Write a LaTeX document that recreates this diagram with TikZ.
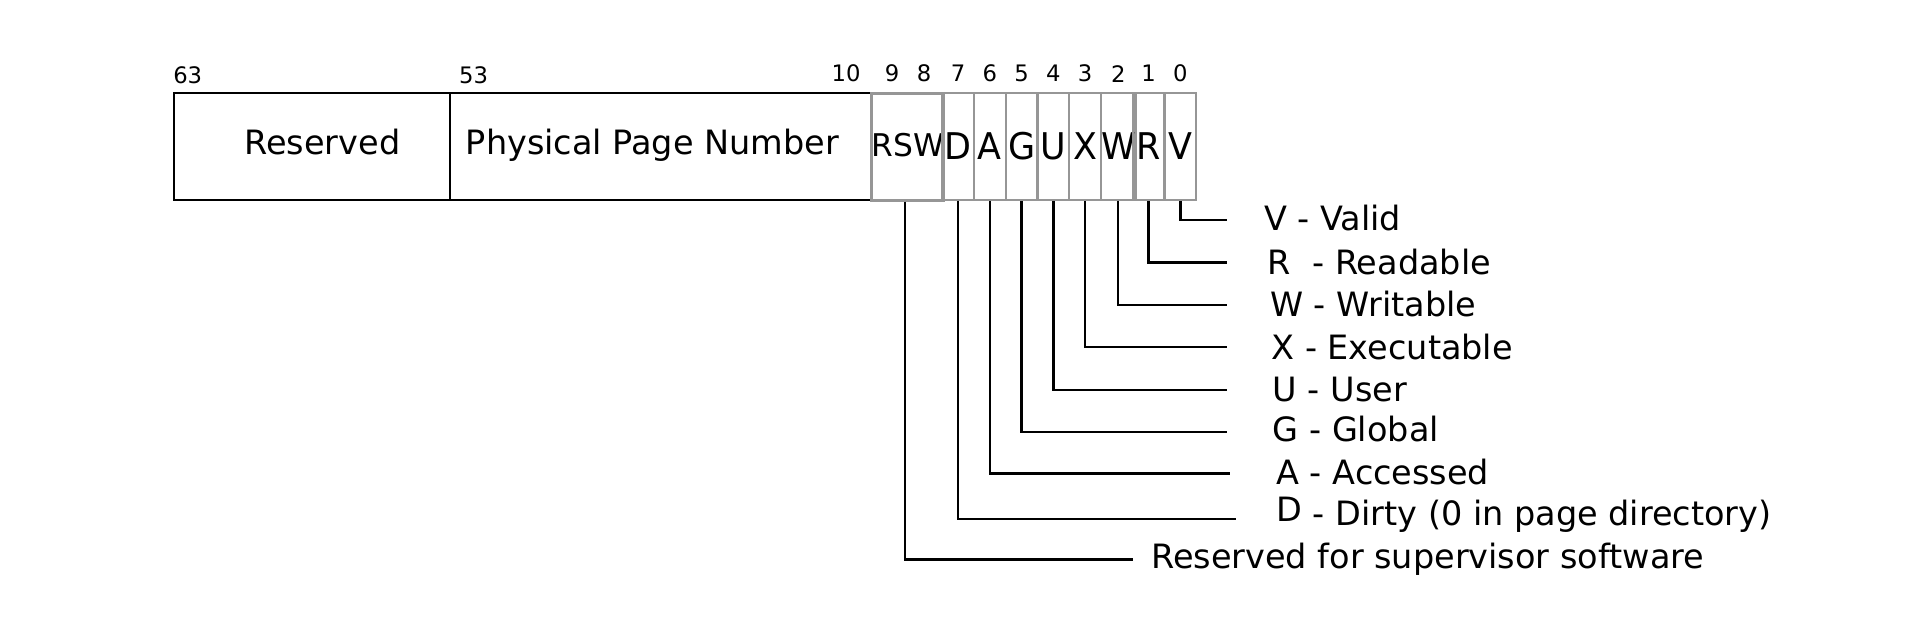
\documentclass[tikz,border=0pt]{standalone}
\usepackage{fontspec}
\setmainfont{DejaVu Sans}
\newcommand{\bigtext}{\fontsize{27.3}{31}\selectfont}
\newcommand{\bittext}{\fontsize{30}{34}\selectfont}
\newcommand{\rswtext}{\fontsize{25.5}{29}\selectfont}
\newcommand{\numtext}{\fontsize{18.5}{21}\selectfont}
\definecolor{boxgray}{RGB}{150,150,150}
\tikzset{
  field/.style={draw=black, line width=1.4pt, minimum height=87pt, inner sep=0pt, anchor=north west},
  fieldtext/.style={font=\bigtext, inner sep=0pt, text height=20pt, text depth=0pt, yshift=3pt},
  bitbox/.style={draw=boxgray, line width=1.8pt, minimum width=25.875pt, minimum height=87pt, inner sep=0pt, anchor=north west, font=\bittext},
  bitnum/.style={inner sep=0pt, font=\numtext},
  legend/.style={inner sep=0pt, anchor=base west, font=\bigtext},
  lead/.style={line width=1.9pt}
}
\begin{document}
\begin{tikzpicture}[x=1pt,y=-1pt]
  \useasboundingbox (0,0) rectangle (1568,515);
  %% the fields
  \node[field, minimum width=225pt,
    label={[fieldtext, xshift=8.5pt]center:Reserved}] (resv) at (141,75) {};
  \node[field, minimum width=343pt,
    label={[fieldtext, xshift=-6.5pt]center:Physical Page Number}] (ppn) at (366,75) {};
  \node[bitbox, line width=2.4pt, minimum width=58pt, font=\rswtext] (rsw) at (709,75) {\raisebox{3pt}{RSW}};
  \foreach \b [count=\i from 0] in {D,A,G,U,X,W,R,V}
    \node[bitbox] (b\b) at (767+25.875*\i,75) {\scalebox{\ifx\b W0.82\else0.95\fi}[1]{\b}};
  %% bit numbers
  \node[bitnum] (n63) at (153,61) {63};
  \node[bitnum] (n53) at (386,61) {53};
  \node[bitnum] (n10) at (689.5,60) {10};
  \node[bitnum] (n9) at (727,60) {9};
  \node[bitnum] (n8) at (753,60) {8};
  \foreach \b/\n in {D/7,A/6,G/5,U/4,X/3,W/2,R/1,V/0}
    \node[bitnum] (n\n) at ([yshift=15pt]b\b.north) {\n};
  %% the legend
  \foreach \b/\txt/\tx/\ty/\ex/\ey in {
      V/{V - Valid}/1030/178/1000/179.3,
      R/{R~~- Readable}/1033/214/1000/213.8,
      W/{W - Writable}/1035/248/1000/248.6,
      X/{X - Executable}/1036/283/1000/283,
      U/{U - User}/1037/317/1000/317.8,
      G/{G - Global}/1037/350/1000/352.3,
      A/{A - Accessed}/1040/385/1002.5/385.8,
      D/{\raisebox{3pt}{D} - Dirty (0 in page directory)}/1040/418/1007/423.2}{
    \node[legend] (l\b) at (\tx,\ty+9.9) {\txt};
    \coordinate (e\b) at (\ex,\ey);
    \draw[lead] (b\b.south) |- (e\b);
  }
  \node[legend] (lrsw) at (938,462.9) {Reserved for supervisor software};
  \coordinate (ersw) at (923.6,456);
  \draw[lead] ([xshift=-2pt]rsw.south) |- (ersw);
\end{tikzpicture}
\end{document}
